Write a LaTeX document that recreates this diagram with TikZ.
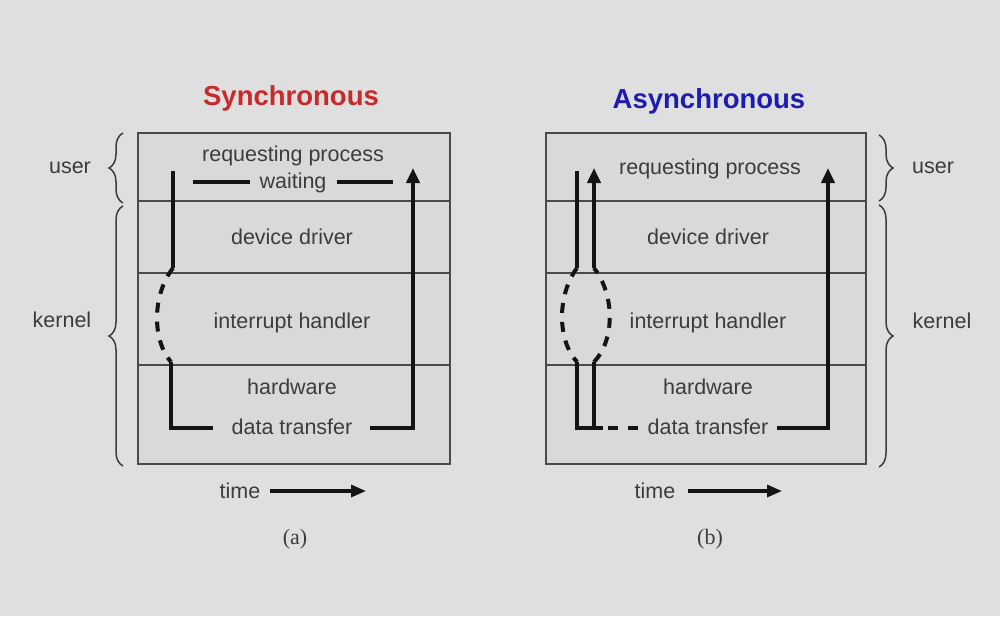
\documentclass[tikz,border=0pt]{standalone}
\usepackage{fontspec}
\setmainfont{Liberation Sans}
\newfontfamily\capfont{Liberation Serif}
\usetikzlibrary{arrows.meta,decorations.pathreplacing}
\definecolor{bg}{HTML}{DFDFDF}
\definecolor{boxfill}{HTML}{D9D9DC}
\definecolor{txt}{HTML}{3C3C3C}
\definecolor{frame}{HTML}{4A4A4A}
\definecolor{synred}{HTML}{C62A2A}
\definecolor{asyblue}{HTML}{1C1CB0}
\begin{document}
\begin{tikzpicture}[x=1pt,y=-1pt,
  lbl/.style={inner sep=0pt,anchor=base,text=txt,font=\fontsize{21.5}{26}\selectfont},
  ttl/.style={inner sep=0pt,anchor=base,font=\bfseries\fontsize{27.5}{32}\selectfont},
  captxt/.style={inner sep=0pt,anchor=base,text=txt,font=\capfont\fontsize{22}{26}\selectfont},
  panel/.style={draw=frame,line width=1.5pt,fill=boxfill},
  sep/.style={draw=frame,line width=1.3pt},
  flow/.style={line width=4pt,black!92},
  dflow/.style={flow,dash pattern=on 10pt off 9pt},
  tip/.style={-{Triangle[length=15pt,width=13pt]}},
  brc/.style={draw=txt,line width=1.5pt,decorate,decoration={brace,amplitude=14pt}},
  tarrow/.style={line width=3.2pt,black!92,-{Triangle[length=15pt,width=12pt]}}]
\fill[bg] (0,0) rectangle (1000,616);
\useasboundingbox (0,0) rectangle (1000,616);

% ---------- titles
\node[ttl,text=synred] (t1) at (291,105) {Synchronous};
\node[ttl,text=asyblue] (t2) at (709,108) {Asynchronous};

% ---------- left panel
\draw[panel] (138,133) rectangle (450,464);
\draw[sep] (138,201) -- (450,201);
\draw[sep] (138,273) -- (450,273);
\draw[sep] (138,365) -- (450,365);
\node[lbl] (a1) at (293,161) {requesting process};
\node[lbl] (a2) at (293,188) {waiting};
\node[lbl] (a3) at (292,244) {device driver};
\node[lbl] (a4) at (292,328) {interrupt handler};
\node[lbl] (a5) at (292,394) {hardware};
\node[lbl] (a6) at (292,434) {data transfer};

\draw[flow] (173,171) -- (173,268);
\draw[dflow] (173,268) .. controls (152,295) and (152,340) .. (171,362);
\draw[flow,line join=miter] (171,362) -- (171,428) -- (213,428);
\draw[flow,tip,line join=miter] (370,428) -- (413,428) -- (413,168);
\draw[flow] (193,182) -- (250,182);
\draw[flow] (337,182) -- (393,182);

% braces left
\draw[brc] (123,203) -- (123,133);
\draw[brc] (123,466) -- (123,206);
\node[lbl] (u1) at (70,173) {user};
\node[lbl] (k1) at (62,327) {kernel};

% time + caption
\node[lbl] (tm1) at (240,498) {time};
\coordinate (tma) at (270,491);
\coordinate (tmb) at (366,491);
\draw[tarrow] (tma) -- (tmb);
\node[captxt] (ca) at (295,544) {(a)};

% ---------- right panel
\draw[panel] (546,133) rectangle (866,464);
\draw[sep] (546,201) -- (866,201);
\draw[sep] (546,273) -- (866,273);
\draw[sep] (546,365) -- (866,365);
\node[lbl] (b1) at (710,174) {requesting process};
\node[lbl] (b3) at (708,244) {device driver};
\node[lbl] (b4) at (708,328) {interrupt handler};
\node[lbl] (b5) at (708,394) {hardware};
\node[lbl] (b6) at (708,434) {data transfer};

\draw[flow] (577,171) -- (577,268);
\draw[dflow] (577,268) .. controls (557,295) and (557,340) .. (577,362);
\draw[flow,line join=miter] (577,362) -- (577,428) -- (603,428);
\draw[flow] (594,428) -- (594,362);
\draw[dflow] (594,362) .. controls (615,340) and (615,295) .. (594,268);
\draw[flow,tip] (594,268) -- (594,168);
\draw[flow,dash pattern=on 10pt off 10pt] (608,428) -- (638,428);
\draw[flow,tip,line join=miter] (777,428) -- (828,428) -- (828,168);

% braces right
\draw[brc] (879,135) -- (879,201);
\draw[brc] (879,205) -- (879,467);
\node[lbl] (u2) at (933,173) {user};
\node[lbl] (k2) at (942,328) {kernel};

\node[lbl] (tm2) at (655,498) {time};
\coordinate (tmc) at (688,491);
\coordinate (tmd) at (782,491);
\draw[tarrow] (tmc) -- (tmd);
\node[captxt] (cb) at (710,544) {(b)};
\end{tikzpicture}
\end{document}
